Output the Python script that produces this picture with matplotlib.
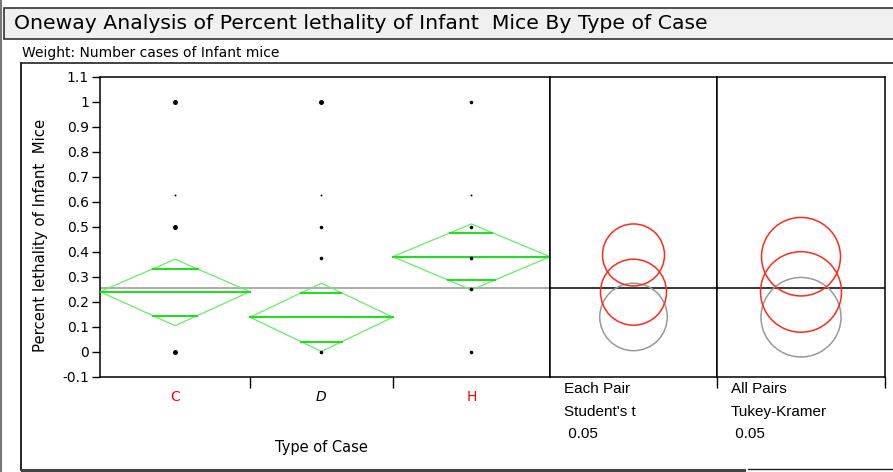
import matplotlib.pyplot as plt
from matplotlib.patches import Rectangle, Circle, Polygon

# ---- data ----
groups = ['C', 'D', 'H']
group_n = [21, 20, 22]                 # x-width of each group (sample size)
label_colors = ['red', 'black', 'red']
label_style = ['normal', 'italic', 'normal']

means = [0.240, 0.138, 0.380]
ci_low = [0.104, 0.001, 0.247]
ci_high = [0.370, 0.274, 0.511]
ovl_low = [0.143, 0.040, 0.287]
ovl_high = [0.331, 0.236, 0.476]
grand_mean = 0.256

# observed values and their weights (dot size)
pts_y = {
    'C': [1.0, 0.625, 0.5, 0.0],
    'D': [1.0, 0.625, 0.5, 0.375, 0.0],
    'H': [1.0, 0.625, 0.5, 0.375, 0.25, 0.0],
}
pts_w = {
    'C': [3, 1, 3, 3],
    'D': [3, 1, 2, 2, 2],
    'H': [2, 1, 2, 2, 2, 2],
}

# comparison circles: (center, radius) for H, C, D
circ_student = [(0.387, 0.124), (0.238, 0.132), (0.139, 0.135)]
circ_tukey = [(0.380, 0.157), (0.239, 0.161), (0.138, 0.159)]
circ_colors = ['#ff2a1a', '#ff2a1a', '#999999']

W, H = 893, 472
fig = plt.figure(figsize=(W / 100, H / 100), dpi=100)


def fx(x):
    return x / W


def fy(y):
    return 1 - y / H


# ---- frame decorations ----
fig.patches.append(Rectangle((fx(4), fy(39)), fx(900) - fx(4), fy(8) - fy(39),
                             transform=fig.transFigure, facecolor='#f0f0f0',
                             edgecolor='#333333', lw=1.2))
fig.text(fx(14), fy(23.5), 'Oneway Analysis of Percent lethality of Infant  Mice By Type of Case',
         fontsize=14.7, va='center', ha='left', color='black')
fig.add_artist(plt.Line2D([fx(1), fx(1)], [0, 1], color='#777777', lw=1.5))
fig.add_artist(plt.Line2D([fx(20.5), fx(20.5)], [fy(63), fy(470)], color='black', lw=1.2))
fig.add_artist(plt.Line2D([fx(20.5), fx(893)], [fy(63), fy(63)], color='#222222', lw=1.2))
fig.add_artist(plt.Line2D([fx(22), fx(744)], [fy(469.5), fy(469.5)], color='#444444', lw=2.2))
fig.add_artist(plt.Line2D([fx(748), fx(893)], [fy(469), fy(469)], color='#222222', lw=1))
fig.text(fx(22), fy(53), 'Weight: Number cases of Infant mice', fontsize=10,
         va='center', ha='left')

top, bot = 76.7, 376.7
ymin, ymax = -0.1, 1.1
ax = fig.add_axes([fx(100), fy(bot), fx(550) - fx(100), fy(top) - fy(bot)])
ax2 = fig.add_axes([fx(550), fy(bot), fx(717) - fx(550), fy(top) - fy(bot)])
ax3 = fig.add_axes([fx(717), fy(bot), fx(885) - fx(717), fy(top) - fy(bot)])

# ---- main oneway plot ----
edges = [0]
for n in group_n:
    edges.append(edges[-1] + n)
ax.set_xlim(0, edges[-1])
ax.set_ylim(ymin, ymax)

ax.axhline(grand_mean, color='#a0a0a0', lw=1.2, zorder=1)

diamond_c = '#66ee66'
line_c = '#22dd22'
for i, g in enumerate(groups):
    x0, x1 = edges[i], edges[i + 1]
    xc = (x0 + x1) / 2
    hw = (x1 - x0) / 2
    m, lo, hi = means[i], ci_low[i], ci_high[i]
    ax.add_patch(Polygon([(x0, m), (xc, hi), (x1, m), (xc, lo)], closed=True,
                         fill=False, edgecolor=diamond_c, lw=0.9, zorder=2))
    ax.plot([x0, x1], [m, m], color=line_c, lw=1.5, zorder=3)
    for ov, ref in ((ovl_high[i], hi), (ovl_low[i], lo)):
        frac = 1 - abs(ov - m) / abs(ref - m)
        ax.plot([xc - hw * frac, xc + hw * frac], [ov, ov], color=line_c, lw=1.5, zorder=3)
    sizes = {1: 1.4, 2: 2.6, 3: 3.6}
    for y, w in zip(pts_y[g], pts_w[g]):
        ax.plot(xc, y, 'o', color='black', ms=sizes[w], mec='none', zorder=4)

ax.set_yticks([round(-0.1 + 0.1 * k, 1) for k in range(13)])
ax.set_yticklabels(['-0.1', '0', '0.1', '0.2', '0.3', '0.4', '0.5', '0.6', '0.7', '0.8',
                    '0.9', '1', '1.1'])
ax.tick_params(axis='y', labelsize=10, length=6, width=1, pad=2)
ax.set_xticks(edges[1:-1])
ax.set_xticklabels([])
ax.tick_params(axis='x', length=8, width=1)
ax.set_ylabel('Percent lethality of Infant  Mice', fontsize=10.7)
ax.yaxis.set_label_coords(-0.115, 0.47)
for i, g in enumerate(groups):
    ax.text((edges[i] + edges[i + 1]) / 2, -0.181, g, color=label_colors[i],
            style=label_style[i], fontsize=10, ha='center', va='center')
ax.text(edges[1] + group_n[1] / 2, -0.385, 'Type of Case', fontsize=10.5,
        ha='center', va='center')

# ---- comparison circles ----
half = (ymax - ymin) * (167 / 300) / 2
px = (2 * half) / 167
for a, circs, lab in ((ax2, circ_student, ["Each Pair", "Student's t", " 0.05"]),
                      (ax3, circ_tukey, ["All Pairs", "Tukey-Kramer", " 0.05"])):
    a.set_xlim(-half, half)
    a.set_ylim(ymin, ymax)
    a.axhline(grand_mean, color='black', lw=1.1, zorder=1)
    for (c, r), col in zip(circs[::-1], circ_colors[::-1]):
        a.add_patch(Circle((0, c), r, fill=False, edgecolor=col, lw=1.1, zorder=2))
    a.set_yticks([])
    a.set_xticks([half])
    a.set_xticklabels([])
    a.tick_params(axis='x', length=8, width=1)
    for k, t in enumerate(lab):
        a.text(-half + 14 * px, -0.15 - 0.09 * k, t, fontsize=11, ha='left', va='center',
               fontfamily='Liberation Sans')

for a in (ax, ax2, ax3):
    for s in a.spines.values():
        s.set_linewidth(1.1)
        s.set_color('black')

fig.savefig('out.png', dpi=100)
